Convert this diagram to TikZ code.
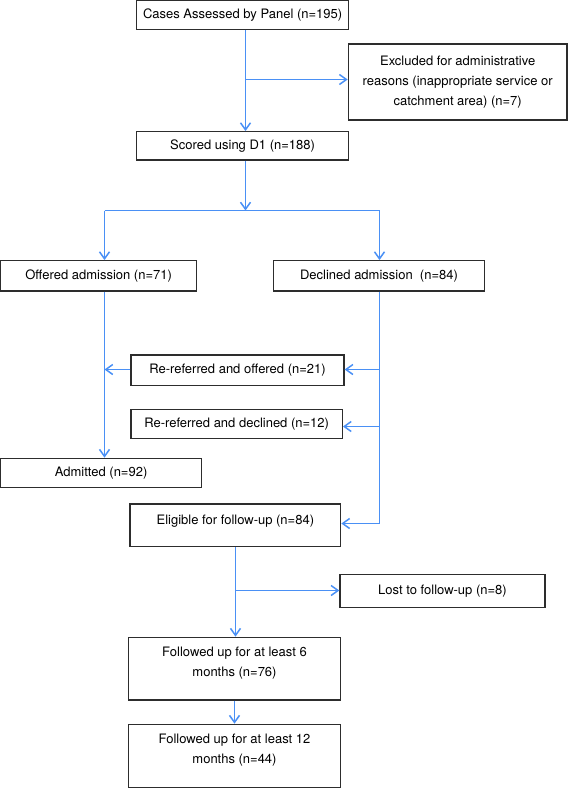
\documentclass[tikz,border=0pt]{standalone}
\usepackage{fontspec}
\setmainfont{TeX Gyre Heros}
\usepackage{tikz}
\usetikzlibrary{arrows.meta}
\definecolor{linkblue}{RGB}{74,144,245}
\definecolor{boxgray}{RGB}{45,45,45}

\begin{document}
\begin{tikzpicture}[x=1pt, y=-1pt,
font=\fontsize{13}{20}\selectfont,
box/.style={draw=boxgray, line width=1.3pt, inner sep=0pt, align=center, fill=white},
link/.style={draw=linkblue, line width=1.5pt},
flow/.style={link, -{Straight Barb[length=7pt,width=10pt]}}]
\useasboundingbox (0,0) rectangle (568,788);

\node[box, minimum width=211.8pt, minimum height=28.6pt] (cases) at (242.6,15) {Cases Assessed by Panel (n=195)};
\node[box, minimum width=218.7pt, minimum height=76pt] (excl) at (457.7,82) {Excluded for administrative\\ reasons (inappropriate service or\\ catchment area) (n=7)};
\node[box, minimum width=212pt, minimum height=28.3pt] (scored) at (242.6,145.85) {Scored using D1 (n=188)};
\node[box, minimum width=196.2pt, minimum height=30.3pt] (offered) at (98.6,275.85) {Offered admission (n=71)};
\node[box, minimum width=211.4pt, minimum height=30.3pt] (declined) at (379,275.85) {Declined admission\ \ (n=84)};
\node[box, minimum width=213pt, minimum height=30.7pt] (reoff) at (237.5,370.35) {Re-referred and offered (n=21)};
\node[box, minimum width=211.3pt, minimum height=29pt] (redec) at (236.65,423.8) {Re-referred and declined (n=12)};
\node[box, minimum width=201.2pt, minimum height=29.4pt] (admitted) at (101.1,473) {Admitted (n=92)};
\node[box, minimum width=210.7pt, minimum height=42.7pt, text depth=12pt] (eligible) at (235.35,525.35) {Eligible for follow-up (n=84)};
\node[box, minimum width=205pt, minimum height=32.6pt] (lost) at (442.5,591) {Lost to follow-up (n=8)};
\node[box, minimum width=212.4pt, minimum height=62.7pt] (fu6) at (234.5,668.65) {Followed up for at least 6\\ months (n=76)\\[-12pt] \strut};
\node[box, minimum width=212.4pt, minimum height=63pt] (fu12) at (234.5,755.8) {Followed up for at least 12\\ months (n=44)\\[-12pt] \strut};

\coordinate (j1) at (245.5,79.5);
\coordinate (j2) at (245.5,210.5);
\coordinate (jl) at (104.5,210.5);
\coordinate (jr) at (379.5,210.5);
\coordinate (a1) at (104.5,369.5);
\coordinate (b1) at (379.5,369.5);
\coordinate (b2) at (379.5,426.5);
\coordinate (b3) at (379.5,523.5);
\coordinate (j3) at (235.5,590.5);

\draw[flow] (cases.south -| j1) -- (scored.north -| j1);
\draw[flow] (j1) -- (j1 -| excl.west);
\draw[flow] (scored.south -| j2) -- (j2);
\draw[link] (jl) -- (jr);
\draw[flow] (jl) -- (offered.north -| jl);
\draw[flow] (jr) -- (declined.north -| jr);
\draw[flow] (offered.south -| jl) -- (admitted.north -| jl);
\draw[flow] (a1 -| reoff.west) -- (a1);
\draw[link] (declined.south -| jr) -- (b3);
\draw[flow] (b1) -- (b1 -| reoff.east);
\draw[flow] (b2) -- (b2 -| redec.east);
\draw[flow] (b3) -- (b3 -| eligible.east);
\draw[flow] (eligible.south -| j3) -- (fu6.north -| j3);
\draw[flow] (j3) -- (j3 -| lost.west);
\draw[flow] (fu6) -- (fu12);
\end{tikzpicture}
\end{document}
